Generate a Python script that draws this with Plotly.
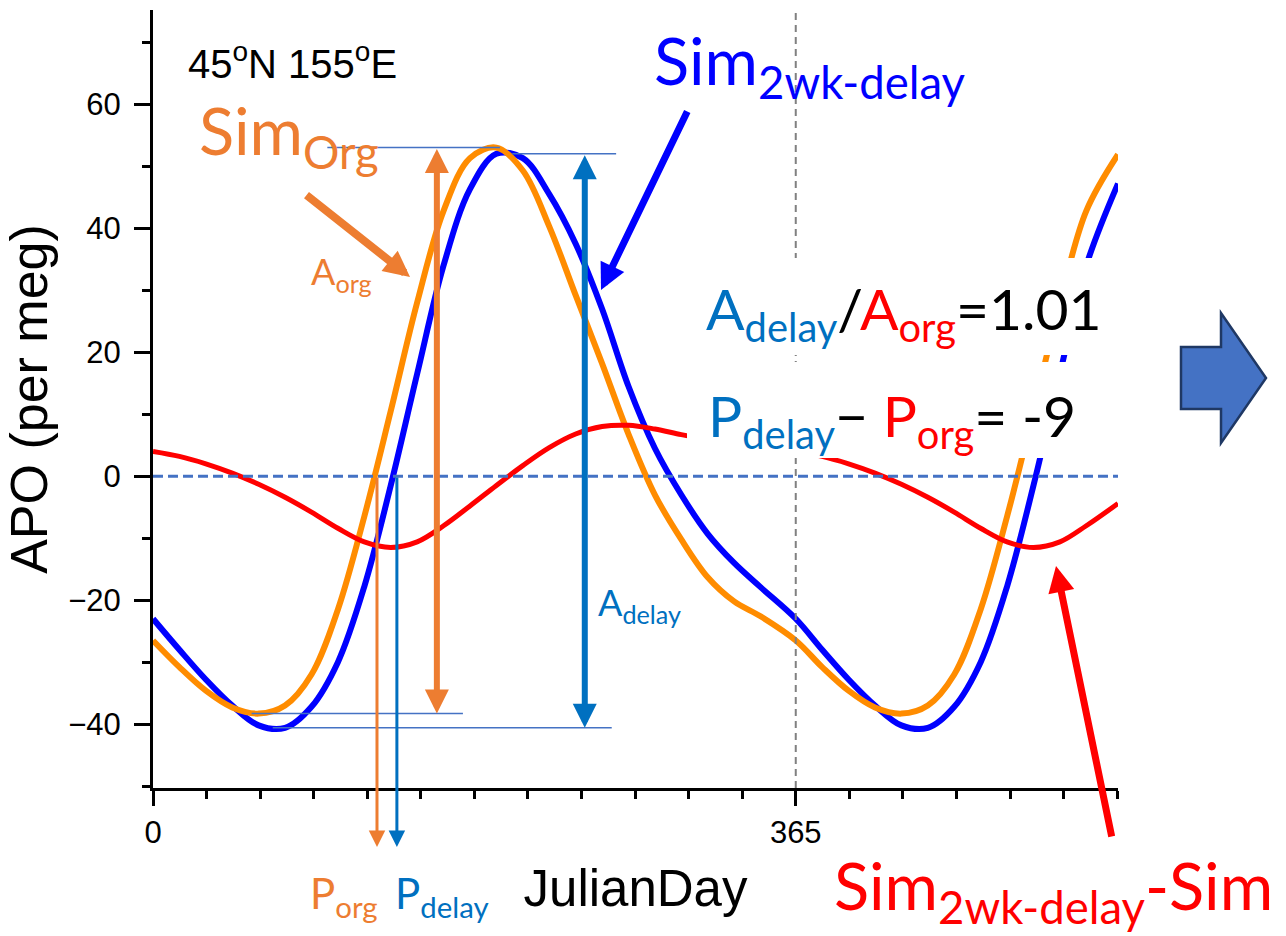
import plotly.graph_objects as go

# ------------------------------------------------------------------ data
days = [0, 15, 30, 45, 60, 75, 90, 105, 120, 135, 150, 165, 180, 195, 210, 225,
        240, 255, 270, 285, 300, 315, 330, 345,
        365, 380, 395, 410, 425, 440, 455, 470, 485, 500, 515, 530, 548]

sim_org = [-26.5, -30.8, -34.6, -37.3, -38.3, -37.0, -32.0, -21.5, -6.5, 10.5,
           28.0, 42.8, 51.3, 53.0, 49.3, 40.3, 29.2, 18.2, 6.8, -3.0, -10.2,
           -16.3, -20.2, -22.6,
           -26.5, -30.8, -34.6, -37.3, -38.3, -37.0, -32.0, -21.5, -6.5, 10.5,
           28.0, 42.8, 51.9]

sim_delay = [-23.0, -28.0, -32.8, -37.0, -40.2, -40.6, -37.2, -30.0, -17.8, -1.5,
             16.5, 34.0, 46.3, 52.0, 51.3, 45.5, 37.5, 27.0, 14.5, 4.5, -3.0,
             -9.3, -14.0, -17.9,
             -23.0, -28.0, -32.8, -37.0, -40.2, -40.6, -37.2, -30.0, -17.8, -1.5,
             16.5, 34.0, 47.2]

sim_diff = [4.0, 3.2, 2.0, 0.5, -1.3, -3.4, -5.8, -8.4, -10.6, -11.5,
            -10.6, -8.0, -4.8, -1.5, 1.7, 4.6, 6.8, 8.0, 8.2, 7.6, 6.7,
            5.9, 5.2, 4.6,
            4.0, 3.2, 2.0, 0.5, -1.3, -3.4, -5.8, -8.4, -10.6, -11.5,
            -10.6, -8.0, -4.4]

x_tickvals = [0, 365]
x_ticktext = ["0", "365"]
x_range = [0, 548]
y_range = [-50.3, 75.2]
y_tickvals = [-40, -20, 0, 20, 40, 60]

P_ORG_DAY = 127.2      # phase marker of Sim_Org
P_DELAY_DAY = 138.5    # phase marker of Sim_2wk-delay
A_ORG_DAY = 161.2      # amplitude arrow position (orange)
A_DELAY_DAY = 245.2    # amplitude arrow position (blue)

# ------------------------------------------------------------------ layout geometry
W, H = 1286, 936
ML, MR, MT, MB = 153, 168, 10, 148


def px(x):
    return (x - ML) / (W - ML - MR)


def py(y):
    return (H - MB - y) / (H - MT - MB)


ORANGE_LINE = "#FF8C00"
BLUE_LINE = "#0000FF"
RED_LINE = "#FF0000"
ORANGE_TXT = "#ED7D31"
BLUE_TXT = "#0070C0"
REF_BLUE = "#4472C4"
CAL = "Lato, 'Open Sans', sans-serif"
ARIAL = "'Liberation Sans', Arial, sans-serif"

fig = go.Figure()

fig.add_trace(go.Scatter(x=days, y=sim_delay, mode="lines", line=dict(color=BLUE_LINE, width=6, shape="spline"),
                         hoverinfo="skip", showlegend=False))
fig.add_trace(go.Scatter(x=days, y=sim_org, mode="lines", line=dict(color=ORANGE_LINE, width=6, shape="spline"),
                         hoverinfo="skip", showlegend=False))
fig.add_trace(go.Scatter(x=days, y=sim_diff, mode="lines", line=dict(color=RED_LINE, width=5, shape="spline"),
                         hoverinfo="skip", showlegend=False))

# reference lines
fig.add_trace(go.Scatter(x=x_range, y=[0, 0], mode="lines", line=dict(color=REF_BLUE, width=3, dash="10px,5px"),
                         hoverinfo="skip", showlegend=False))
fig.add_trace(go.Scatter(x=[365, 365], y=y_range, mode="lines", line=dict(color="#808080", width=2, dash="7px,5px"),
                         hoverinfo="skip", showlegend=False))

# max / min guide lines
org_max, org_min = max(sim_org), min(sim_org)
del_max, del_min = max(sim_delay), min(sim_delay)
for xs, yv in [([99, 197], org_max), ([204, 263], del_max), ([56, 176], org_min), ([68, 260.5], del_min)]:
    fig.add_trace(go.Scatter(x=xs, y=[yv, yv], mode="lines", line=dict(color=REF_BLUE, width=1.5),
                             hoverinfo="skip", showlegend=False))

shapes = [
    # white text boxes that hide the curves behind the formulas
    dict(type="rect", xref="paper", yref="paper", x0=px(687), x1=px(1118), y0=py(355), y1=py(258),
         fillcolor="white", line=dict(width=0), layer="above"),
    dict(type="rect", xref="paper", yref="paper", x0=px(687), x1=px(1118), y0=py(458), y1=py(362),
         fillcolor="white", line=dict(width=0), layer="above"),
]
pts = [(1181, 347), (1221, 347), (1221, 313), (1266, 378), (1221, 443), (1221, 409), (1181, 409)]
path = "M " + " L ".join(f"{px(a):.5f},{py(b):.5f}" for a, b in pts) + " Z"
shapes.append(dict(type="path", xref="paper", yref="paper", path=path, fillcolor=REF_BLUE,
                   line=dict(color="#1F3864", width=2.5), layer="above"))


def arrow(x0, y0, x1, y1, color, width, size):
    return dict(x=px(x1), y=py(y1), xref="paper", yref="paper", ax=x0 - x1, ay=y0 - y1,
                axref="pixel", ayref="pixel", showarrow=True, arrowhead=2, arrowsize=size,
                arrowwidth=width, arrowcolor=color, text="")


def label(x, top, text, size, color, family=CAL):
    return dict(x=px(x), y=py(top), xref="paper", yref="paper", xanchor="left", yanchor="top",
                showarrow=False, text=text, font=dict(family=family, size=size, color=color))


annotations = [
    arrow(305, 194, 410, 277, ORANGE_TXT, 8, 0.65),
    arrow(688, 110, 601, 290, BLUE_LINE, 7, 0.75),
    arrow(1112, 838, 1056, 566, RED_LINE, 7, 0.75),
    dict(x=A_ORG_DAY, y=org_min, xref="x", yref="y", ax=A_ORG_DAY, ay=org_max, axref="x", ayref="y",
         showarrow=True, arrowside="end+start", arrowhead=2, startarrowhead=2, arrowsize=0.8,
         startarrowsize=0.8, arrowwidth=6, arrowcolor=ORANGE_TXT, text=""),
    dict(x=A_DELAY_DAY, y=del_min, xref="x", yref="y", ax=A_DELAY_DAY, ay=del_max, axref="x", ayref="y",
         showarrow=True, arrowside="end+start", arrowhead=2, startarrowhead=2, arrowsize=0.8,
         startarrowsize=0.8, arrowwidth=6, arrowcolor=BLUE_TXT, text=""),
    dict(x=P_ORG_DAY, y=py(847), xref="x", yref="paper", ax=0, ay=476 - 847, axref="pixel", ayref="pixel",
         showarrow=True, arrowhead=2, arrowsize=1.1, arrowwidth=3, arrowcolor=ORANGE_TXT, text=""),
    dict(x=P_DELAY_DAY, y=py(847), xref="x", yref="paper", ax=0, ay=476 - 847, axref="pixel", ayref="pixel",
         showarrow=True, arrowhead=2, arrowsize=1.1, arrowwidth=3, arrowcolor=BLUE_TXT, text=""),

    label(186, 34, "45<sup>o</sup>N 155<sup>o</sup>E", 40, "black", ARIAL),
    label(197, 89, "Sim<sub>Org</sub>", 65, ORANGE_TXT),
    label(652, 19, "Sim<sub>2wk-delay</sub>", 65, BLUE_LINE),
    label(309, 247, "A<sub>org</sub>", 36, ORANGE_TXT),
    label(596, 578, "A<sub>delay</sub>", 36, BLUE_TXT),
    label(308, 866, "P<sub>org</sub>", 42, ORANGE_TXT),
    label(393, 866, "P<sub>delay</sub>", 42, BLUE_TXT),
    label(704, 272,
          f"<span style='color:{BLUE_TXT}'>A<sub>delay</sub></span>/"
          f"<span style='color:{RED_LINE}'>A<sub>org</sub></span>=1.01", 57, "black"),
    label(706, 379,
          f"<span style='color:{BLUE_TXT}'>P<sub>delay</sub></span>\u2212 "
          f"<span style='color:{RED_LINE}'>P<sub>org</sub></span>= -9", 57, "black"),
    label(832, 844, "Sim<sub>2wk-delay</sub>-Sim", 65, RED_LINE),
]

fig.update_layout(
    width=W, height=H,
    margin=dict(l=ML, r=MR, t=MT, b=MB, autoexpand=False),
    paper_bgcolor="white", plot_bgcolor="white",
    showlegend=False,
    shapes=shapes,
    annotations=annotations,
)

fig.update_xaxes(
    range=x_range, showgrid=False, zeroline=False,
    showline=True, linecolor="black", linewidth=3,
    tickmode="array", tickvals=x_tickvals, ticktext=x_ticktext,
    ticks="outside", ticklen=15, tickwidth=3, tickcolor="black",
    ticklabelstandoff=0,
    tickfont=dict(family=ARIAL, size=31, color="black"),
    minor=dict(ticks="outside", tick0=0, dtick=365 / 12, ticklen=8, tickwidth=3, tickcolor="black", showgrid=False),
    title=dict(text="JulianDay", font=dict(family=ARIAL, size=51, color="black"), standoff=22),
    automargin=False,
)
fig.update_yaxes(
    range=y_range, showgrid=False, zeroline=False,
    showline=True, linecolor="black", linewidth=3,
    tickmode="array", tickvals=y_tickvals,
    ticks="outside", ticklen=16, tickwidth=3, tickcolor="black",
    ticklabelstandoff=7,
    tickfont=dict(family=ARIAL, size=31, color="black"),
    minor=dict(ticks="outside", tick0=0, dtick=10, ticklen=8, tickwidth=3, tickcolor="black", showgrid=False),
    title=dict(text="APO (per meg)", font=dict(family=ARIAL, size=52, color="black"), standoff=9),
    automargin=False,
)

fig.write_html("out.html")
